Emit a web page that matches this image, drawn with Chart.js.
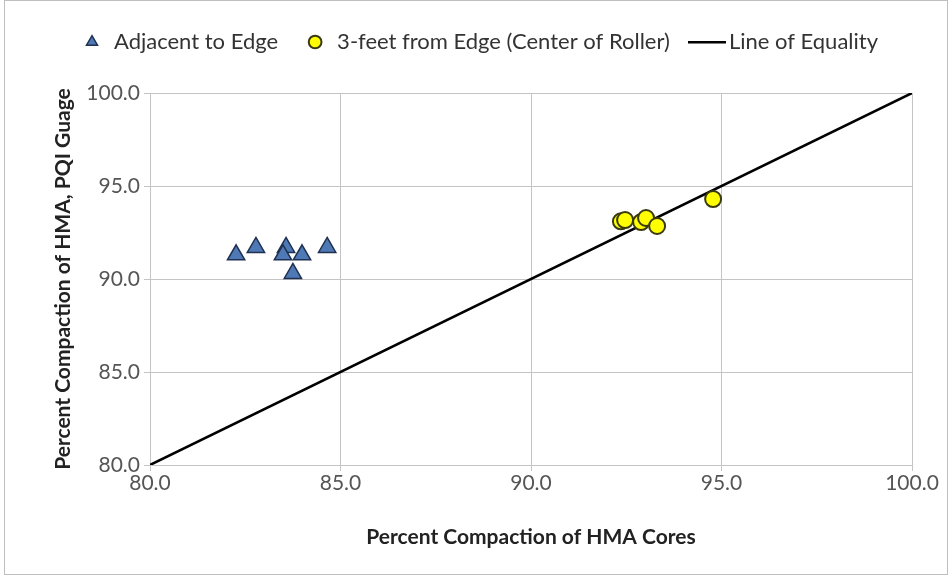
<!DOCTYPE html>
<html>
<head>
<meta charset="utf-8">
<script src="https://cdn.jsdelivr.net/npm/chart.js@4.4.0/dist/chart.umd.min.js"></script>
<style>
  html, body { margin: 0; padding: 0; background: #fff; }
  #wrap { position: absolute; left: 4px; top: 0; width: 944px; height: 575px; border: 1px solid #bfbfbf; box-sizing: border-box; }
  canvas { position: absolute; left: -5px; top: 0; }
</style>
</head>
<body>
<div id="wrap"><canvas id="myChart" width="951" height="578"></canvas></div>
<script>
// data
var adjacentX = [82.26, 82.78, 83.57, 83.49, 83.99, 83.75, 84.65];
var adjacentY = [91.3, 91.7, 91.7, 91.3, 91.3, 90.3, 91.7];
var centerX = [92.36, 92.47, 92.89, 93.02, 93.31, 94.78];
var centerY = [93.1, 93.17, 93.06, 93.28, 92.85, 94.3];
var equalityX = [80, 100];
var equalityY = [80, 100];
var axisMin = 80;
var axisMax = 100;
var axisStep = 5;

function pairs(xs, ys) {
    return xs.map(function (x, i) { return { x: x, y: ys[i] }; });
}

// wide line sample for the legend entry
function lineSwatch() {
    var c = document.createElement("canvas");
    c.width = 38;
    c.height = 4;
    var g = c.getContext("2d");
    g.fillStyle = "#000";
    g.fillRect(0, 1, 38, 2.5);
    return c;
}

// make the legend take more room so the plot starts lower
var legendSpace = {
    id: "legendSpace",
    beforeInit: function (chart) {
        var fit = chart.legend.fit;
        chart.legend.fit = function () {
            fit.call(this);
            this.height = 88;
        };
    },
};

document.addEventListener("DOMContentLoaded", function () {
    var ctx = document.getElementById("myChart").getContext("2d");
    var font = "Lato, 'Open Sans', sans-serif";

    new Chart(ctx, {
        type: "scatter",
        data: {
            datasets: [
                {
                    label: "Adjacent to Edge",
                    data: pairs(adjacentX, adjacentY),
                    pointStyle: "triangle",
                    pointRadius: 10,
                    pointHoverRadius: 10,
                    backgroundColor: "#4f79b5",
                    borderColor: "#1f3050",
                    borderWidth: 1.5,
                    order: 1,
                },
                {
                    label: "3-feet from Edge (Center of Roller)",
                    data: pairs(centerX, centerY),
                    pointStyle: "circle",
                    pointRadius: 8,
                    pointHoverRadius: 8,
                    backgroundColor: "#ffff00",
                    borderColor: "#3a3a10",
                    borderWidth: 2,
                    order: 1,
                },
                {
                    label: "Line of Equality",
                    data: pairs(equalityX, equalityY),
                    showLine: true,
                    pointRadius: 0,
                    pointHoverRadius: 0,
                    pointStyle: lineSwatch(),
                    borderColor: "#000000",
                    backgroundColor: "#000000",
                    borderWidth: 2.5,
                    order: 3,
                },
            ],
        },
        plugins: [legendSpace],
        options: {
            responsive: false,
            animation: false,
            layout: { padding: { top: 4, right: 39, bottom: 25, left: 47 } },
            plugins: {
                tooltip: { enabled: false },
                legend: {
                    position: "top",
                    labels: {
                        usePointStyle: true,
                        boxHeight: 9,
                        color: "#333",
                        padding: 26,
                        font: { family: font, size: 22 },
                    },
                },
            },
            scales: {
                x: {
                    type: "linear",
                    min: axisMin,
                    max: axisMax,
                    ticks: {
                        stepSize: axisStep,
                        color: "#555",
                        font: { family: font, size: 21 },
                        padding: 0,
                        callback: function (v) { return v.toFixed(1); },
                    },
                    grid: { color: "#c4c4c4", tickLength: 6 },
                    border: { color: "#c4c4c4" },
                    title: {
                        display: true,
                        text: "Percent Compaction of HMA Cores",
                        color: "#222",
                        font: { family: font, size: 21, weight: "bold" },
                    },
                    afterFit: function (s) { s.height = 89; },
                },
                y: {
                    min: axisMin,
                    max: axisMax,
                    ticks: {
                        stepSize: axisStep,
                        color: "#555",
                        font: { family: font, size: 21 },
                        padding: 4,
                        callback: function (v) { return v.toFixed(1); },
                    },
                    grid: { color: "#c4c4c4", tickLength: 6 },
                    border: { color: "#c4c4c4" },
                    title: {
                        display: true,
                        text: "Percent Compaction of HMA, PQI Guage",
                        color: "#222",
                        font: { family: font, size: 21, weight: "bold" },
                    },
                    afterFit: function (s) { s.width = 103; },
                },
            },
        },
    });
});
</script>
</body>
</html>
